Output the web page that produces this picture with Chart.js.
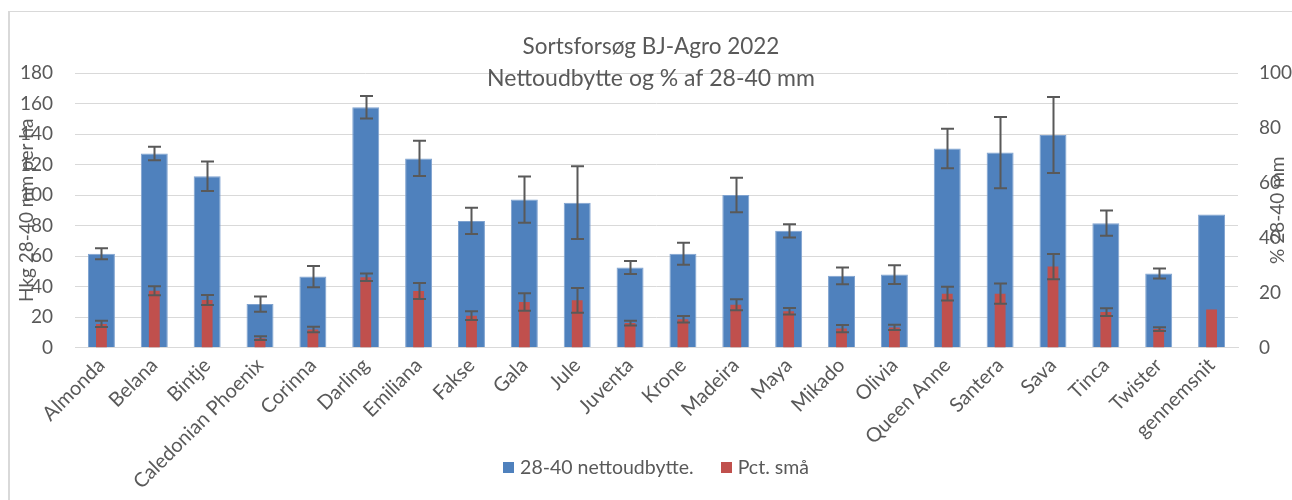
<!DOCTYPE html>
<html>
<head>
<meta charset="utf-8">
<script src="https://cdn.jsdelivr.net/npm/chart.js@4"></script>
<style>
  html, body { margin: 0; padding: 0; background: #fff; }
  #frame { position: absolute; left: 8px; top: 11px; width: 1400px; height: 600px;
           border-left: 2px solid #d9d9d9; border-top: 1px solid #d9d9d9; }
  #wrap { position: absolute; left: 0; top: 0; width: 1292px; height: 500px; }
</style>
</head>
<body>
<div id="frame"></div>
<div id="wrap"><canvas id="chart"></canvas></div>
<script>
const categories = ["Almonda","Belana","Bintje","Caledonian Phoenix","Corinna","Darling","Emiliana","Fakse","Gala","Jule","Juventa","Krone","Madeira","Maya","Mikado","Olivia","Queen Anne","Santera","Sava","Tinca","Twister","gennemsnit"];

// Hkg 28-40 mm per ha (left axis) and error (+/-)
const yieldValues = [61.5, 127.2, 112.3, 28.5, 46.5, 157.5, 124, 83, 97, 95, 52.5, 61.5, 100, 76.5, 47, 47.8, 130.5, 127.8, 139.3, 81.5, 48.5, 87.2];
const yieldErrors = [3.6, 4.4, 9.7, 5, 7, 7.4, 11.6, 8.6, 15.2, 23.8, 4.3, 7.2, 11.3, 4.3, 5.5, 6.1, 13, 23.3, 24.9, 8.3, 3.3, null];

// Pct. små (right axis) and error (+/-)
const smallPct    = [8.6, 20.7, 17.3, 3.4, 6.6, 25.6, 20.6, 11.6, 16.6, 17.2, 8.9, 10.3, 15.6, 13.2, 6.9, 7.3, 19.6, 19.6, 29.5, 12.9, 6.7, 13.8];
const smallErrors = [1.1, 1.65, 1.8, 0.7, 1, 1.4, 2.9, 1.6, 3.2, 4.5, 0.85, 1.15, 2, 1.15, 1.3, 0.95, 2.5, 3.7, 4.6, 1.4, 0.7, null];

const leftTicks  = { min: 0, max: 180, step: 20 };
const rightTicks = { min: 0, max: 100, step: 20 };

const TXT = "#595959";
const FONT = "Lato";
const PLOT_BOTTOM = 347.5;

// error bars drawn from the errors array of each dataset
const errorBars = {
  id: "errorBars",
  afterDatasetsDraw(chart){
    const ctx = chart.ctx;
    ctx.save();
    ctx.strokeStyle = "#595959";
    ctx.lineWidth = 2;
    chart.data.datasets.forEach((ds, di) => {
      if (!ds.errors) return;
      const meta = chart.getDatasetMeta(di);
      const scale = chart.scales[ds.yAxisID];
      meta.data.forEach((bar, i) => {
        const e = ds.errors[i];
        if (e == null) return;
        const v = ds.data[i];
        const yTop = scale.getPixelForValue(v + e);
        const yBot = scale.getPixelForValue(v - e);
        const x = Math.round(bar.x) + 0.5;
        const cap = 6.5;
        ctx.beginPath();
        ctx.moveTo(x, yTop); ctx.lineTo(x, yBot);
        ctx.moveTo(x - cap, yTop); ctx.lineTo(x + cap, yTop);
        ctx.moveTo(x - cap, yBot); ctx.lineTo(x + cap, yBot);
        ctx.stroke();
      });
    });
    ctx.restore();
  }
};

// title, axis titles and legend drawn on top (they overlap the plot / labels like in the original)
const overlayText = {
  id: "overlayText",
  afterDraw(chart){
    const ctx = chart.ctx;
    const a = chart.chartArea;
    const midY = (a.top + a.bottom) / 2;
    ctx.save();
    ctx.fillStyle = TXT;
    ctx.textAlign = "center";
    ctx.textBaseline = "middle";
    ctx.font = `22.5px ${FONT}`;
    ctx.fillText("Sortsforsøg BJ-Agro 2022", 651, 47);
    ctx.font = `23px ${FONT}`;
    ctx.fillText("Nettoudbytte og % af 28-40 mm", 651, 79);

    ctx.font = `19px ${FONT}`;
    ctx.translate(27, midY);
    ctx.rotate(-Math.PI / 2);
    ctx.fillText("Hkg 28-40 mm per ha", 0, 0);
    ctx.restore();

    ctx.save();
    ctx.fillStyle = TXT;
    ctx.textAlign = "center";
    ctx.textBaseline = "middle";
    ctx.font = `19px ${FONT}`;
    ctx.translate(1278, midY);
    ctx.rotate(-Math.PI / 2);
    ctx.fillText("% 28-40 mm", 0, 0);
    ctx.restore();

    // legend
    ctx.save();
    ctx.font = `19.5px ${FONT}`;
    ctx.textBaseline = "middle";
    ctx.textAlign = "left";
    const box = 11, gapText = 6, gapItem = 27, ly = 468;
    const items = chart.data.datasets.map(ds => ({ label: ds.label, color: ds.backgroundColor }));
    const total = items.reduce((s, it) => s + box + gapText + ctx.measureText(it.label).width, 0) + gapItem * (items.length - 1);
    let x = 656 - total / 2;
    items.forEach(it => {
      ctx.fillStyle = it.color;
      ctx.fillRect(Math.round(x), ly - 6, box, box);
      x += box + gapText;
      ctx.fillStyle = TXT;
      ctx.fillText(it.label, x, ly);
      x += ctx.measureText(it.label).width + gapItem;
    });
    ctx.restore();
  }
};

new Chart(document.getElementById("chart"), {
  type: "bar",
  data: {
    labels: categories,
    datasets: [
      {
        label: "28-40 nettoudbytte.",
        data: yieldValues,
        errors: yieldErrors,
        yAxisID: "y",
        backgroundColor: "#4f81bd",
        borderColor: "#7fa2cf",
        borderWidth: 1,
        grouped: false,
        barPercentage: 0.51,
        categoryPercentage: 1,
        order: 2
      },
      {
        label: "Pct. små",
        data: smallPct,
        errors: smallErrors,
        yAxisID: "y1",
        backgroundColor: "#c0504d",
        borderWidth: 0,
        grouped: false,
        barPercentage: 0.205,
        categoryPercentage: 1,
        order: 1
      }
    ]
  },
  options: {
    responsive: true,
    maintainAspectRatio: false,
    animation: false,
    layout: { padding: { top: 73, bottom: 0, left: 0, right: 0 } },
    plugins: {
      title: { display: false },
      tooltip: { enabled: false },
      legend: { display: false }
    },
    scales: {
      x: {
        afterFit(scale){ scale.height = scale.chart.height - PLOT_BOTTOM; },
        grid: { display: false, drawTicks: false },
        border: { display: true, color: "#d9d9d9", width: 1 },
        ticks: {
          font: { family: FONT, size: 20 },
          color: TXT,
          minRotation: 45,
          maxRotation: 45,
          padding: 6,
          autoSkip: false
        }
      },
      y: {
        position: "left",
        min: leftTicks.min,
        max: leftTicks.max,
        afterFit(scale){ scale.width = 75; },
        grid: { color: "#d9d9d9", lineWidth: 1, drawTicks: false },
        border: { display: false },
        ticks: {
          stepSize: leftTicks.step,
          font: { family: FONT, size: 19 },
          color: TXT,
          padding: 22
        }
      },
      y1: {
        position: "right",
        min: rightTicks.min,
        max: rightTicks.max,
        afterFit(scale){ scale.width = 54; },
        grid: { display: false, drawTicks: false },
        border: { display: false },
        ticks: {
          stepSize: rightTicks.step,
          font: { family: FONT, size: 19 },
          color: TXT,
          padding: 21
        }
      }
    }
  },
  plugins: [errorBars, overlayText]
});
</script>
</body>
</html>
